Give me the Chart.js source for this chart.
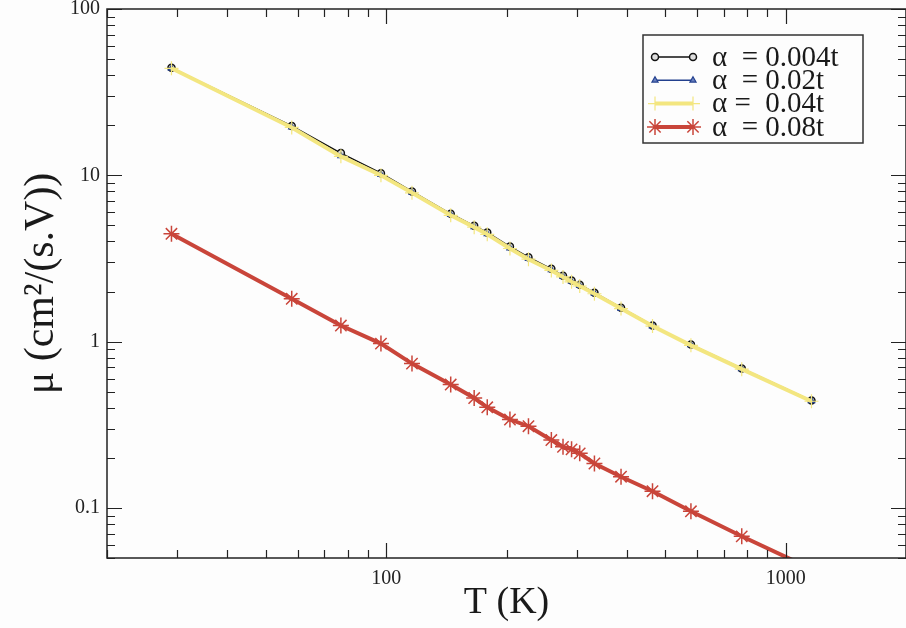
<!DOCTYPE html>
<html>
<head>
<meta charset="utf-8">
<script src="https://cdn.jsdelivr.net/npm/chart.js@4.4.0/dist/chart.umd.min.js"></script>
<style>
  html, body { margin: 0; padding: 0; background: #fdfdfd; overflow: hidden; }
  #wrap { width: 906px; height: 628px; position: relative; }
</style>
</head>
<body>
<div id="wrap"><canvas id="mobilityChart"></canvas></div>
<script>
// temperatures (K)
const temps = [29, 58, 77, 97, 116, 145, 166, 179, 204, 227, 259, 277, 291, 305, 332, 387, 464, 579, 776, 1160];

// mobility mu (cm^2/(s.V)) for each alpha
const mu004 = [44.3, 19.8, 13.6, 10.3, 7.99, 5.87, 4.97, 4.53, 3.73, 3.22, 2.74, 2.49, 2.33, 2.20, 1.97, 1.60, 1.25, 0.96, 0.689, 0.442];
const mu02 = [44.0, 19.5, 13.1, 10.1, 7.90, 5.80, 4.90, 4.45, 3.65, 3.15, 2.70, 2.46, 2.30, 2.17, 1.95, 1.58, 1.24, 0.955, 0.685, 0.440];
const mu04 = [44.0, 19.4, 13.0, 10.0, 7.85, 5.75, 4.88, 4.42, 3.63, 3.13, 2.68, 2.45, 2.29, 2.16, 1.94, 1.58, 1.24, 0.950, 0.683, 0.438];
const mu08 = [4.45, 1.81, 1.25, 0.973, 0.738, 0.552, 0.458, 0.403, 0.340, 0.310, 0.256, 0.233, 0.225, 0.213, 0.185, 0.154, 0.126, 0.0955, 0.0675, 0.043];

const seriesNames = ['\u03b1  = 0.004t', '\u03b1  = 0.02t', '\u03b1 =  0.04t', '\u03b1  = 0.08t'];

// axis ticks
const xLabels = [100, 1000];
const xMinor = [20, 30, 40, 50, 60, 70, 80, 90, 200, 300, 400, 500, 600, 700, 800, 900, 2000];
const yLabels = [0.1, 1, 10, 100];
const yMinor = [0.05, 0.06, 0.07, 0.08, 0.09, 0.2, 0.3, 0.4, 0.5, 0.6, 0.7, 0.8, 0.9,
                2, 3, 4, 5, 6, 7, 8, 9, 20, 30, 40, 50, 60, 70, 80, 90];

const serif = "'Liberation Serif', 'DejaVu Serif', serif";

const pts = (ys) => temps.map((t, i) => ({ x: t, y: ys[i] }));

// cadre + graduations vers l'interieur (style xmgrace)
const frameTicks = {
    id: 'frameTicks',
    afterDatasetsDraw(chart) {
        const { ctx, chartArea: a, scales: { x, y } } = chart;
        ctx.save();
        ctx.strokeStyle = '#222';
        ctx.lineWidth = 1.5;
        ctx.strokeRect(a.left, a.top, a.right - a.left, a.bottom - a.top);
        ctx.lineWidth = 1.2;
        ctx.beginPath();
        const xt = (v, len) => {
            const p = Math.round(x.getPixelForValue(v)) + 0.5;
            ctx.moveTo(p, a.bottom); ctx.lineTo(p, a.bottom - len);
            ctx.moveTo(p, a.top); ctx.lineTo(p, a.top + len);
        };
        const yt = (v, len) => {
            const p = Math.round(y.getPixelForValue(v)) + 0.5;
            ctx.moveTo(a.left, p); ctx.lineTo(a.left + len, p);
            ctx.moveTo(a.right, p); ctx.lineTo(a.right - len, p);
        };
        xLabels.forEach(v => xt(v, 15));
        xMinor.forEach(v => xt(v, 8));
        yLabels.forEach(v => yt(v, 15));
        yMinor.forEach(v => yt(v, 8));
        ctx.stroke();
        ctx.restore();
    }
};

// legende encadree dans la zone du graphe
const boxLegend = {
    id: 'boxLegend',
    afterDraw(chart) {
        const { ctx } = chart;
        ctx.save();
        ctx.fillStyle = '#fdfdfd';
        ctx.fillRect(643, 35, 220, 108);
        ctx.strokeStyle = '#333';
        ctx.lineWidth = 1.5;
        ctx.strokeRect(643, 35, 220, 108);
        chart.data.datasets.forEach((ds, i) => {
            const yy = 57 + i * 23.3;
            ctx.strokeStyle = ds.borderColor;
            ctx.lineWidth = ds.borderWidth;
            ctx.beginPath();
            ctx.moveTo(655, yy); ctx.lineTo(693, yy);
            ctx.stroke();
            ctx.fillStyle = ds.pointBackgroundColor;
            ctx.strokeStyle = ds.pointBorderColor;
            ctx.lineWidth = ds.pointBorderWidth;
            [655, 693].forEach(px => Chart.helpers.drawPoint(ctx, {
                pointStyle: ds.pointStyle, radius: ds.pointRadius, rotation: 0, borderWidth: ds.pointBorderWidth
            }, px, yy));
            ctx.fillStyle = '#1a1a1a';
            ctx.font = '29px ' + serif;
            ctx.textBaseline = 'middle';
            ctx.fillText(seriesNames[i], 712, yy + 1);
        });
        ctx.restore();
    }
};

new Chart(document.getElementById('mobilityChart'), {
    type: 'line',
    data: {
        datasets: [{
            label: seriesNames[0],
            data: pts(mu004),
            borderColor: '#111',
            borderWidth: 1.5,
            pointStyle: 'circle',
            pointRadius: 3.5,
            pointBorderWidth: 1.5,
            pointBorderColor: '#111',
            pointBackgroundColor: '#ddd',
            order: 4,
        }, {
            label: seriesNames[1],
            data: pts(mu02),
            borderColor: '#23408e',
            borderWidth: 1.5,
            pointStyle: 'triangle',
            pointRadius: 3.5,
            pointBorderWidth: 1.2,
            pointBorderColor: '#23408e',
            pointBackgroundColor: '#6a80c0',
            order: 3,
        }, {
            label: seriesNames[2],
            data: pts(mu04),
            borderColor: '#f3e680',
            borderWidth: 4,
            pointStyle: 'cross',
            pointRadius: 7,
            pointBorderWidth: 1.2,
            pointBorderColor: '#f3e680',
            pointBackgroundColor: '#f3e680',
            order: 2,
        }, {
            label: seriesNames[3],
            data: pts(mu08),
            borderColor: '#c9453a',
            borderWidth: 4,
            pointStyle: 'star',
            pointRadius: 8,
            pointBorderWidth: 1.5,
            pointBorderColor: '#c9453a',
            pointBackgroundColor: '#c9453a',
            order: 1,
            clip: 0,
        }]
    },
    options: {
        responsive: true,
        maintainAspectRatio: false,
        animation: false,
        layout: { autoPadding: false, padding: { top: 9, right: 0, left: 0, bottom: 0 } },
        plugins: {
            legend: { display: false },
            tooltip: { enabled: false }
        },
        scales: {
            x: {
                type: 'logarithmic',
                min: 20,
                max: 2000,
                afterBuildTicks: (s) => { s.ticks = xLabels.map(v => ({ value: v })); },
                afterFit: (s) => { s.height = 70; s.paddingLeft = 0; s.paddingRight = 0; },
                grid: { display: false, drawTicks: false },
                border: { display: false },
                ticks: {
                    autoSkip: false,
                    maxRotation: 0,
                    padding: 9,
                    color: '#222',
                    font: { family: serif, size: 20 },
                    callback: (v) => String(v)
                },
                title: {
                    display: true,
                    text: 'T (K)',
                    color: '#1a1a1a',
                    font: { family: serif, size: 38 },
                    padding: { top: 0, bottom: 2 }
                }
            },
            y: {
                type: 'logarithmic',
                min: 0.05,
                max: 100,
                afterBuildTicks: (s) => { s.ticks = yLabels.map(v => ({ value: v })); },
                afterFit: (s) => { s.width = 107; s.paddingTop = 0; s.paddingBottom = 0; },
                grid: { display: false, drawTicks: false },
                border: { display: false },
                ticks: {
                    autoSkip: false,
                    padding: 7,
                    color: '#222',
                    font: { family: serif, size: 20 },
                    callback: (v) => String(v)
                },
                title: {
                    display: true,
                    text: '\u03bc (cm\u00b2/(s.V))',
                    color: '#1a1a1a',
                    font: { family: serif, size: 42 },
                    padding: { top: 17, bottom: 0 }
                }
            }
        }
    },
    plugins: [frameTicks, boxLegend]
});
</script>
</body>
</html>
